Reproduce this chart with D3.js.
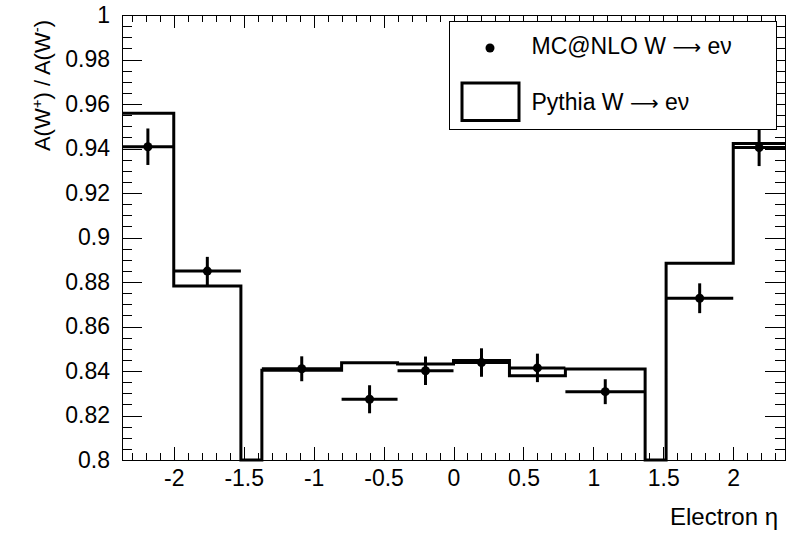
<!DOCTYPE html>
<html>
<head>
<meta charset="UTF-8">
<title>A(W+) / A(W-) vs electron eta</title>
<style>
    body { margin: 0; background: white; }
    svg { display: block; font-family: "Liberation Sans", Arial, Helvetica, sans-serif; }
    .axis path.domain { display: none; }
    .axis line { stroke: black; shape-rendering: crispEdges; }
    .axis text { font-size: 23px; fill: black; }
    .hist { fill: none; stroke: black; stroke-width: 3px; }
    .err { stroke: black; stroke-width: 3px; }
    .arrow { font-family: "DejaVu Sans", sans-serif; }
</style>
</head>
<body>
<script src="https://d3js.org/d3.v7.min.js"></script>
<script>
// bin edges in electron eta (crack region 1.37-1.52 is empty)
var binEdges = [-2.37, -2.0, -1.52, -1.37, -0.8, -0.4, 0, 0.4, 0.8, 1.37, 1.52, 2.0, 2.37];
// Pythia W -> e nu histogram
var pythiaVals = [0.9558, 0.8782, 0, 0.8403, 0.8437, 0.8432, 0.8447, 0.8379, 0.8409, 0, 0.8884, 0.9423];
// MC@NLO W -> e nu points and errors
var mcnloVals = [0.9408, 0.8849, null, 0.8410, 0.8273, 0.8401, 0.8438, 0.8414, 0.8307, null, 0.8727, 0.9404];
var mcnloErrs = [0.0082, 0.0064, null, 0.0056, 0.0063, 0.0064, 0.0064, 0.0064, 0.0056, null, 0.0067, 0.0083];

var xTicks = [-2, -1.5, -1, -0.5, 0, 0.5, 1, 1.5, 2];
var xMinor = d3.range(-23, 24).map(function(i) { return i / 10; });
var yTicks = d3.range(0, 11).map(function(i) { return +(0.8 + i * 0.02).toFixed(2); });
var yMinor = d3.range(0, 41).map(function(i) { return +(0.8 + i * 0.005).toFixed(3); });

var width = 793, height = 534;
var frame = {left: 122, right: 785, top: 15, bottom: 460};

var svg = d3.select("body").append("svg")
    .attr("width", width)
    .attr("height", height);

var x = d3.scaleLinear().domain([-2.37, 2.37]).range([frame.left, frame.right]);
var y = d3.scaleLinear().domain([0.8, 1]).range([frame.bottom, frame.top]).clamp(true);

// frame
svg.append("rect")
    .attr("x", frame.left + 0.5).attr("y", frame.top + 0.5)
    .attr("width", frame.right - frame.left).attr("height", frame.bottom - frame.top)
    .attr("fill", "none").attr("stroke", "black").attr("shape-rendering", "crispEdges");

// pythia histogram as a step outline
var stepPts = [];
pythiaVals.forEach(function(v, i) {
    stepPts.push([binEdges[i], v]);
    stepPts.push([binEdges[i + 1], v]);
});
var line = d3.line().x(function(d) { return x(d[0]); }).y(function(d) { return y(d[1]); });
svg.append("path").attr("class", "hist").attr("d", line(stepPts));

// mc@nlo points with error bars
var pts = mcnloVals.map(function(v, i) {
    return {lo: binEdges[i], hi: binEdges[i + 1], c: (binEdges[i] + binEdges[i + 1]) / 2, v: v, e: mcnloErrs[i]};
}).filter(function(d) { return d.v !== null; });

var pg = svg.append("g");
pg.selectAll(".hx").data(pts).enter().append("line").attr("class", "err")
    .attr("x1", function(d) { return x(d.lo); }).attr("x2", function(d) { return x(d.hi); })
    .attr("y1", function(d) { return y(d.v); }).attr("y2", function(d) { return y(d.v); });
pg.selectAll(".hy").data(pts).enter().append("line").attr("class", "err")
    .attr("x1", function(d) { return x(d.c); }).attr("x2", function(d) { return x(d.c); })
    .attr("y1", function(d) { return y(d.v - d.e); }).attr("y2", function(d) { return y(d.v + d.e); });
pg.selectAll("circle").data(pts).enter().append("circle")
    .attr("cx", function(d) { return x(d.c); }).attr("cy", function(d) { return y(d.v); })
    .attr("r", 4.5).attr("fill", "black");

// axes, ticks pointing inwards like ROOT
svg.append("g").attr("class", "axis").attr("transform", "translate(0," + frame.bottom + ")")
    .call(d3.axisBottom(x).tickValues(xMinor).tickSize(-7).tickFormat(""));
svg.append("g").attr("class", "axis").attr("transform", "translate(0," + frame.bottom + ")")
    .call(d3.axisBottom(x).tickValues(xTicks).tickSize(-13).tickPadding(10)
        .tickFormat(function(d) { return String(d); }));
svg.append("g").attr("class", "axis").attr("transform", "translate(0," + frame.top + ")")
    .call(d3.axisTop(x).tickValues(xMinor).tickSize(-7).tickFormat(""));
svg.append("g").attr("class", "axis").attr("transform", "translate(0," + frame.top + ")")
    .call(d3.axisTop(x).tickValues(xTicks).tickSize(-13).tickFormat(""));

svg.append("g").attr("class", "axis").attr("transform", "translate(" + frame.left + ",0)")
    .call(d3.axisLeft(y).tickValues(yMinor).tickSize(-10).tickFormat(""));
svg.append("g").attr("class", "axis").attr("transform", "translate(" + frame.left + ",0)")
    .call(d3.axisLeft(y).tickValues(yTicks).tickSize(-20).tickPadding(12)
        .tickFormat(function(d) { return String(+d.toFixed(2)); }));
svg.append("g").attr("class", "axis").attr("transform", "translate(" + frame.right + ",0)")
    .call(d3.axisRight(y).tickValues(yMinor).tickSize(-10).tickFormat(""));
svg.append("g").attr("class", "axis").attr("transform", "translate(" + frame.right + ",0)")
    .call(d3.axisRight(y).tickValues(yTicks).tickSize(-20).tickFormat(""));

// axis titles
svg.append("text")
    .attr("x", 778).attr("y", 525)
    .attr("text-anchor", "end").attr("font-size", 24)
    .text("Electron η");

var yt = svg.append("text")
    .attr("transform", "translate(50,20) rotate(-90)")
    .attr("text-anchor", "end").attr("font-size", 22);
yt.append("tspan").text("A(W");
yt.append("tspan").attr("baseline-shift", "super").attr("font-size", 15).text("+");
yt.append("tspan").text(") / A(W");
yt.append("tspan").attr("baseline-shift", "super").attr("font-size", 15).text("-");
yt.append("tspan").text(")");

// legend
var legendLabels = ["MC@NLO W ", "Pythia W "];
var lg = svg.append("g");
lg.append("rect")
    .attr("x", 449.5).attr("y", 21.5).attr("width", 327).attr("height", 108)
    .attr("fill", "white").attr("stroke", "black").attr("stroke-width", 1);
lg.append("circle").attr("cx", 490).attr("cy", 48).attr("r", 4.5).attr("fill", "black");
lg.append("rect")
    .attr("x", 462).attr("y", 83).attr("width", 57).attr("height", 37.5)
    .attr("fill", "white").attr("stroke", "black").attr("stroke-width", 3);
lg.selectAll("text.lab").data(legendLabels).enter().append("text").attr("class", "lab")
    .attr("x", 531.5).attr("y", function(d, i) { return i === 0 ? 54 : 109.5; })
    .attr("font-size", 23)
    .each(function(d) {
        var t = d3.select(this);
        t.append("tspan").text(d);
        t.append("tspan").attr("class", "arrow").attr("font-size", 20).text("⟶");
        t.append("tspan").text(" eν");
    });
</script>
</body>
</html>
